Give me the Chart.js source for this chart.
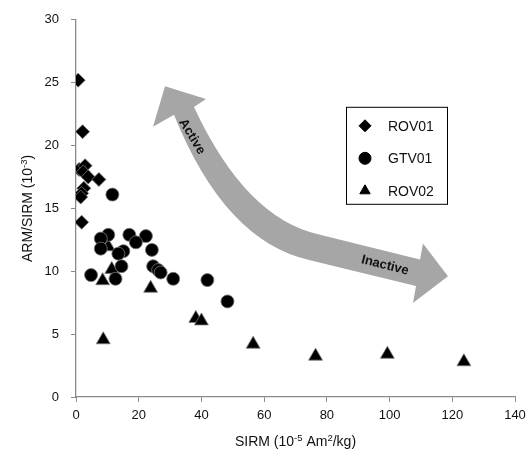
<!DOCTYPE html>
<html><head><meta charset="utf-8">
<script src="https://cdn.jsdelivr.net/npm/chart.js@4.4.0/dist/chart.umd.min.js"></script>
<style>html,body{margin:0;padding:0;background:#fff;} canvas{display:block;}</style>
</head><body>
<canvas id="c" width="532" height="457"></canvas>
<script>
// ---- data ----
const seriesNames = ['ROV01', 'GTV01', 'ROV02'];
const rov01X = [0.7, 2.1, 1.0, 2.9, 2.3, 3.9, 7.3, 2.5, 1.8, 1.5, 1.8];
const rov01Y = [25.2, 21.1, 18.1, 18.4, 17.9, 17.5, 17.3, 16.6, 16.2, 15.9, 13.9];
const gtv01X = [11.6, 10.3, 7.9, 7.9, 17.0, 22.3, 19.1, 15.1, 13.5, 24.2, 14.5, 24.6, 26.2, 27.0, 4.8, 12.6, 31.0, 41.9, 48.3];
const gtv01Y = [16.1, 12.9, 12.6, 11.8, 12.9, 12.8, 12.3, 11.6, 11.4, 11.7, 10.4, 10.4, 10.1, 9.9, 9.7, 9.4, 9.4, 9.3, 7.6];
const rov02X = [10.3, 11.4, 8.5, 23.8, 38.2, 40.0, 8.7, 56.5, 76.4, 99.3, 123.7];
const rov02Y = [11.95, 10.15, 9.25, 8.65, 6.25, 6.05, 4.55, 4.2, 3.25, 3.4, 2.8];
const xTicks = [0, 20, 40, 60, 80, 100, 120, 140];
const yTicks = [0, 5, 10, 15, 20, 25, 30];
const xTitleParts = [['SIRM (10', false], ['-5', true], [' Am', false], ['2', true], ['/kg)', false]];
const yTitleParts = [['ARM/SIRM (10', false], ['-3', true], [')', false]];
const arrowLabels = ['Active', 'Inactive'];
// arrow outline in data units (annotation)
const arrowPath = [
  ['M', 28.38, 24.72], ['L', 41.46, 23.70], ['L', 37.63, 23.07],
  ['Q', 54.21, 14.17, 77.81, 12.91], ['L', 109.70, 10.94], ['L', 110.66, 12.20],
  ['L', 118.63, 9.61], ['L', 107.47, 7.48], ['L', 108.43, 8.82], ['L', 74.62, 10.87],
  ['Q', 47.52, 12.36, 31.25, 22.44], ['L', 24.56, 21.50]
];
const arrowLabelPos = [[36.99, 20.71, 59], [98.54, 10.47, 14]];

const pts = (xs, ys) => xs.map((x, i) => ({x, y: ys[i]}));
const FONT = '"Liberation Sans", Arial, sans-serif';
const styles = [
  {pointStyle: 'rectRot', radius: 7},
  {pointStyle: 'circle', radius: 6.5},
  {pointStyle: 'triangle', radius: 8}
];

function drawRich(ctx, parts, size) {
  let w = 0;
  parts.forEach(([t, sup]) => { ctx.font = (sup ? size * 0.68 : size) + 'px ' + FONT; w += ctx.measureText(t).width; });
  let x = -w / 2;
  parts.forEach(([t, sup]) => {
    ctx.font = (sup ? size * 0.68 : size) + 'px ' + FONT;
    ctx.fillText(t, x, sup ? -size * 0.38 : 0);
    x += ctx.measureText(t).width;
  });
}

const annot = {
  id: 'annot',
  beforeDatasetsDraw(chart) {
    const {ctx, scales: {x, y}} = chart;
    const px = v => x.getPixelForValue(v), py = v => y.getPixelForValue(v);
    ctx.save();
    ctx.beginPath();
    arrowPath.forEach(s => {
      if (s[0] === 'M') ctx.moveTo(px(s[1]), py(s[2]));
      else if (s[0] === 'L') ctx.lineTo(px(s[1]), py(s[2]));
      else ctx.quadraticCurveTo(px(s[1]), py(s[2]), px(s[3]), py(s[4]));
    });
    ctx.closePath();
    ctx.fillStyle = '#a6a6a6';
    ctx.fill();
    ctx.fillStyle = '#111';
    ctx.font = 'bold 13px ' + FONT;
    ctx.textAlign = 'center';
    ctx.textBaseline = 'middle';
    arrowLabels.forEach((t, i) => {
      const [vx, vy, rot] = arrowLabelPos[i];
      ctx.save();
      ctx.translate(px(vx), py(vy));
      ctx.rotate(rot * Math.PI / 180);
      ctx.fillText(t, 0, 0);
      ctx.restore();
    });
    ctx.restore();
  },
  afterDraw(chart) {
    const {ctx, chartArea: a} = chart;
    ctx.save();
    ctx.fillStyle = '#111';
    ctx.textBaseline = 'alphabetic';
    ctx.textAlign = 'left';
    // axis titles
    ctx.save();
    ctx.translate((a.left + a.right) / 2, 446);
    drawRich(ctx, xTitleParts, 14);
    ctx.restore();
    ctx.save();
    ctx.translate(32, (a.top + a.bottom) / 2);
    ctx.rotate(-Math.PI / 2);
    drawRich(ctx, yTitleParts, 14);
    ctx.restore();
    // legend
    const bx = a.left + 270, by = a.top + 87, bw = 101, bh = 97;
    ctx.strokeStyle = '#000';
    ctx.lineWidth = 1;
    ctx.strokeRect(bx + 0.5, by + 0.5, bw, bh);
    seriesNames.forEach((n, i) => {
      const cy = by + 19 + i * 32.5;
      ctx.fillStyle = '#000';
      ctx.strokeStyle = '#000';
      Chart.helpers.drawPoint(ctx, {pointStyle: styles[i].pointStyle, radius: 6, borderWidth: 0.5, rotation: 0}, bx + 19, cy);
      ctx.fillStyle = '#111';
      ctx.font = '14px ' + FONT;
      ctx.textBaseline = 'middle';
      ctx.fillText(n, bx + 42, cy + 1);
    });
    ctx.restore();
  }
};

const mk = (label, data, i) => ({
  label, data,
  pointStyle: styles[i].pointStyle, pointRadius: styles[i].radius, pointHoverRadius: styles[i].radius,
  backgroundColor: '#000', borderColor: '#777', borderWidth: 0.8, showLine: false
});

new Chart(document.getElementById('c'), {
  type: 'scatter',
  data: {datasets: [
    mk(seriesNames[0], pts(rov01X, rov01Y), 0),
    mk(seriesNames[1], pts(gtv01X, gtv01Y), 1),
    mk(seriesNames[2], pts(rov02X, rov02Y), 2)
  ]},
  options: {
    responsive: false, animation: false, devicePixelRatio: 1,
    layout: {padding: {left: 0, top: 16, right: 17, bottom: 0}},
    plugins: {legend: {display: false}, tooltip: {enabled: false}},
    scales: {
      x: {
        type: 'linear', min: 0, max: 140,
        afterBuildTicks: s => { s.ticks = xTicks.map(v => ({value: v})); },
        afterFit: s => { s.height = 60; },
        grid: {display: true, drawOnChartArea: false, drawTicks: true, tickLength: 5, color: '#8a8a8a', lineWidth: 1},
        border: {display: true, color: '#8a8a8a', width: 1.3},
        ticks: {color: '#111', font: {family: FONT, size: 13}, padding: 6, maxRotation: 0}
      },
      y: {
        type: 'linear', min: 0, max: 30,
        afterBuildTicks: s => { s.ticks = yTicks.map(v => ({value: v})); },
        afterFit: s => { s.width = 76; },
        grid: {display: true, drawOnChartArea: false, drawTicks: true, tickLength: 5, color: '#8a8a8a', lineWidth: 1},
        border: {display: true, color: '#8a8a8a', width: 1.3},
        ticks: {color: '#111', font: {family: FONT, size: 13}, padding: 12}
      }
    }
  },
  plugins: [annot]
});
</script>
</body></html>
